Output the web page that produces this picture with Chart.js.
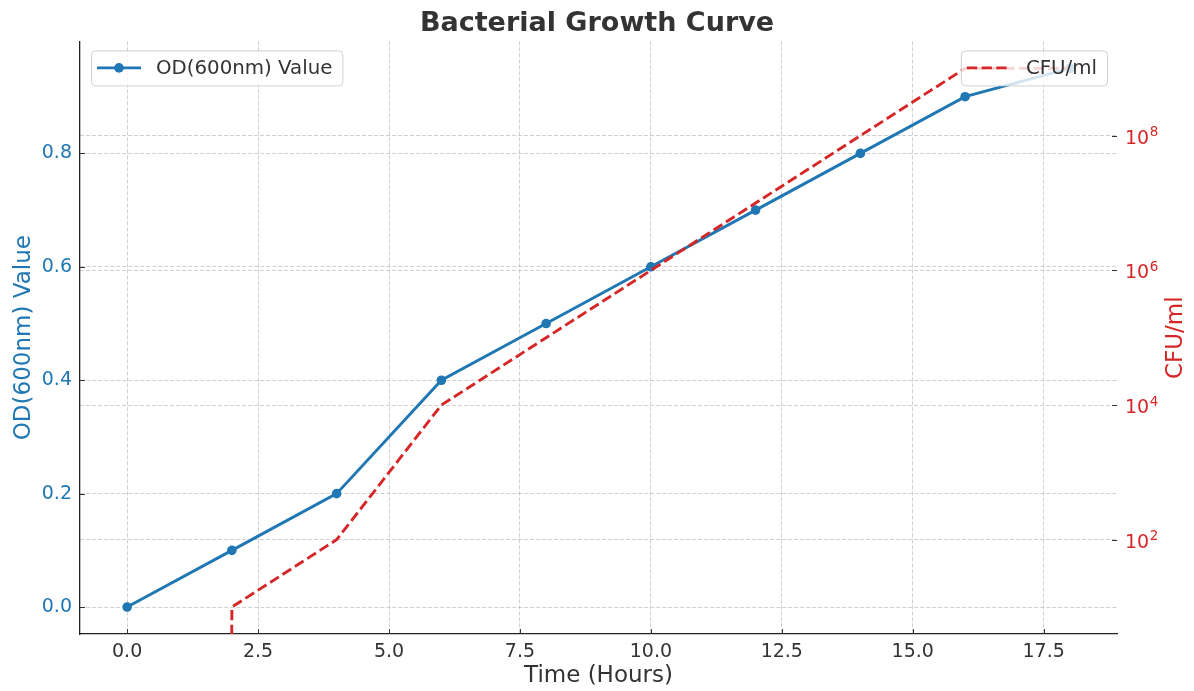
<!DOCTYPE html>
<html>
<head>
<meta charset="utf-8">
<title>Bacterial Growth Curve</title>
<script src="https://cdn.jsdelivr.net/npm/chart.js@4.4.0/dist/chart.umd.min.js"></script>
<style>
  body { margin: 0; background: #fff; }
  canvas { display: block; }
</style>
</head>
<body>
<canvas id="growth" width="1194" height="691"></canvas>
<script>
// --- data ---
const hours = [0, 2, 4, 6, 8, 10, 12, 14, 16, 18];
const odValues = [0, 0.1, 0.2, 0.4, 0.5, 0.6, 0.7, 0.8, 0.9, 0.95];
const cfuValues = [0, 1e1, 1e2, 1e4, 1e5, 1e6, 1e7, 1e8, 1e9, 1e9];

const hourTicks = [0, 2.5, 5, 7.5, 10, 12.5, 15, 17.5];
const odTicks = [0, 0.2, 0.4, 0.6, 0.8];
const cfuTicks = [1e2, 1e4, 1e6, 1e8];
const cfuTickExps = ['2', '4', '6', '8'];

const BLUE = '#1f77b4';
const RED = '#d62728';
const TEXT = '#333333';
const GRID = 'rgba(176,176,176,0.6)';
const FONT = "'DejaVu Sans', 'Liberation Sans', sans-serif";

// log axis: a zero count drops off the bottom like matplotlib's clipping
const cfuPlot = cfuValues.map(v => v > 0 ? v : 1e-300);

// ticks pointing inward, like the original
const innerTicks = {
    id: 'innerTicks',
    afterDatasetsDraw(chart) {
        const ctx = chart.ctx;
        const {x, y, y1} = chart.scales;
        const len = 5;
        ctx.save();
        ctx.strokeStyle = TEXT;
        ctx.lineWidth = 1;
        ctx.beginPath();
        x.ticks.forEach(t => {
            const px = Math.round(x.getPixelForValue(t.value)) + 0.5;
            ctx.moveTo(px, x.top);
            ctx.lineTo(px, x.top - len);
        });
        y.ticks.forEach(t => {
            const py = Math.round(y.getPixelForValue(t.value)) + 0.5;
            ctx.moveTo(y.right, py);
            ctx.lineTo(y.right + len, py);
        });
        y1.ticks.forEach(t => {
            const py = Math.round(y1.getPixelForValue(t.value)) + 0.5;
            ctx.moveTo(y1.left, py);
            ctx.lineTo(y1.left - len, py);
        });
        ctx.stroke();
        ctx.restore();
    }
};

// right axis: 10 with a raised exponent, and its title reading bottom to top
const rightAxisText = {
    id: 'rightAxisText',
    afterDraw(chart) {
        const ctx = chart.ctx;
        const y1 = chart.scales.y1;
        const area = chart.chartArea;
        ctx.save();
        ctx.fillStyle = RED;
        ctx.textBaseline = 'alphabetic';
        cfuTicks.forEach((v, i) => {
            const py = y1.getPixelForValue(v);
            const x0 = y1.left + 8;
            ctx.font = '19px ' + FONT;
            ctx.fillText('10', x0, py + 8);
            const w = ctx.measureText('10').width;
            ctx.font = '13.5px ' + FONT;
            ctx.fillText(cfuTickExps[i], x0 + w + 0.5, py + 0.5);
        });

        ctx.translate(1176, (area.top + area.bottom) / 2);
        ctx.rotate(-Math.PI / 2);
        ctx.font = '23px ' + FONT;
        ctx.textAlign = 'center';
        ctx.textBaseline = 'middle';
        ctx.fillText('CFU/ml', 0, 0);
        ctx.restore();
    }
};

// two legends, one per axis
const LEGEND_FONT = '19.8px ' + FONT;

function legendWidth(ctx, ds) {
    ctx.font = LEGEND_FONT;
    return 65 + ctx.measureText(ds.label).width + 10;
}

function legendBox(ctx, bx, by, ds, withMarker) {
    const w = legendWidth(ctx, ds);
    const h = 35;
    ctx.save();
    ctx.fillStyle = 'rgba(255,255,255,0.8)';
    ctx.strokeStyle = 'rgba(204,204,204,0.9)';
    ctx.lineWidth = 1;
    ctx.beginPath();
    ctx.roundRect(bx + 0.5, by + 0.5, w, h, 4);
    ctx.fill();
    ctx.stroke();

    const my = by + h / 2;
    ctx.strokeStyle = ds.borderColor;
    ctx.lineWidth = ds.borderWidth;
    ctx.setLineDash(ds.borderDash || []);
    ctx.beginPath();
    ctx.moveTo(bx + 6, my);
    ctx.lineTo(bx + 50, my);
    ctx.stroke();
    ctx.setLineDash([]);
    if (withMarker) {
        ctx.fillStyle = ds.borderColor;
        ctx.beginPath();
        ctx.arc(bx + 28, my, ds.pointRadius, 0, Math.PI * 2);
        ctx.fill();
    }
    ctx.font = LEGEND_FONT;
    ctx.fillStyle = TEXT;
    ctx.textBaseline = 'middle';
    ctx.fillText(ds.label, bx + 65, my + 1);
    ctx.restore();
}

const twoLegends = {
    id: 'twoLegends',
    afterDatasetsDraw(chart) {
        const ctx = chart.ctx;
        const area = chart.chartArea;
        const od = chart.data.datasets[0];
        const cfu = chart.data.datasets[1];
        legendBox(ctx, area.left + 11, area.top + 9, od, true);
        legendBox(ctx, area.right - 10 - legendWidth(ctx, cfu), area.top + 9, cfu, false);
    }
};

new Chart(document.getElementById('growth'), {
    type: 'line',
    data: {
        datasets: [{
            label: 'OD(600nm) Value',
            data: hours.map((h, i) => ({x: h, y: odValues[i]})),
            yAxisID: 'y',
            borderColor: BLUE,
            backgroundColor: BLUE,
            borderWidth: 2.9,
            pointRadius: 4.8,
            pointBorderWidth: 0,
            pointBackgroundColor: BLUE,
            fill: false,
            order: 1
        }, {
            label: 'CFU/ml',
            data: hours.map((h, i) => ({x: h, y: cfuPlot[i]})),
            yAxisID: 'y1',
            borderColor: RED,
            backgroundColor: RED,
            borderWidth: 2.9,
            borderDash: [10.3, 4.4],
            pointRadius: 0,
            fill: false,
            order: 0
        }]
    },
    options: {
        responsive: false,
        devicePixelRatio: 1,
        animation: false,
        layout: { padding: 0 },
        plugins: {
            legend: { display: false },
            tooltip: { enabled: false },
            title: {
                display: true,
                text: 'Bacterial Growth Curve',
                color: TEXT,
                font: { family: FONT, size: 27, weight: 'bold' },
                padding: { top: 8, bottom: 1 }
            }
        },
        scales: {
            x: {
                type: 'linear',
                position: 'bottom',
                min: -0.9,
                max: 18.9,
                afterBuildTicks: s => { s.ticks = hourTicks.map(v => ({value: v})); },
                afterFit: s => { s.height = 57; },
                ticks: {
                    color: TEXT,
                    padding: 7,
                    font: { family: FONT, size: 19 },
                    callback: v => v.toFixed(1)
                },
                grid: { color: GRID, lineWidth: 1, drawTicks: false },
                border: { display: true, color: '#222', width: 1.3, dash: [4, 2] },
                title: {
                    display: true,
                    text: 'Time (Hours)',
                    color: TEXT,
                    font: { family: FONT, size: 23 },
                    padding: { top: 0, bottom: 1 }
                }
            },
            y: {
                type: 'linear',
                position: 'left',
                min: -0.0475,
                max: 0.9975,
                afterBuildTicks: s => { s.ticks = odTicks.map(v => ({value: v})); },
                afterFit: s => { s.width = 80; },
                ticks: {
                    color: BLUE,
                    padding: 8,
                    font: { family: FONT, size: 19 },
                    callback: v => v.toFixed(1)
                },
                grid: { color: GRID, lineWidth: 1, drawTicks: false },
                border: { display: true, color: '#222', width: 1.3, dash: [4, 2] },
                title: {
                    display: true,
                    text: 'OD(600nm) Value',
                    color: BLUE,
                    font: { family: FONT, size: 23 },
                    padding: { top: 10, bottom: 0 }
                }
            },
            y1: {
                type: 'logarithmic',
                position: 'right',
                min: Math.pow(10, 0.6),
                max: Math.pow(10, 9.4),
                afterBuildTicks: s => { s.ticks = cfuTicks.map(v => ({value: v})); },
                afterFit: s => { s.width = 77; },
                ticks: { display: false },
                grid: { color: GRID, lineWidth: 1, drawTicks: false },
                border: { display: false, dash: [4, 2] }
            }
        }
    },
    plugins: [innerTicks, twoLegends, rightAxisText]
});
</script>
</body>
</html>
